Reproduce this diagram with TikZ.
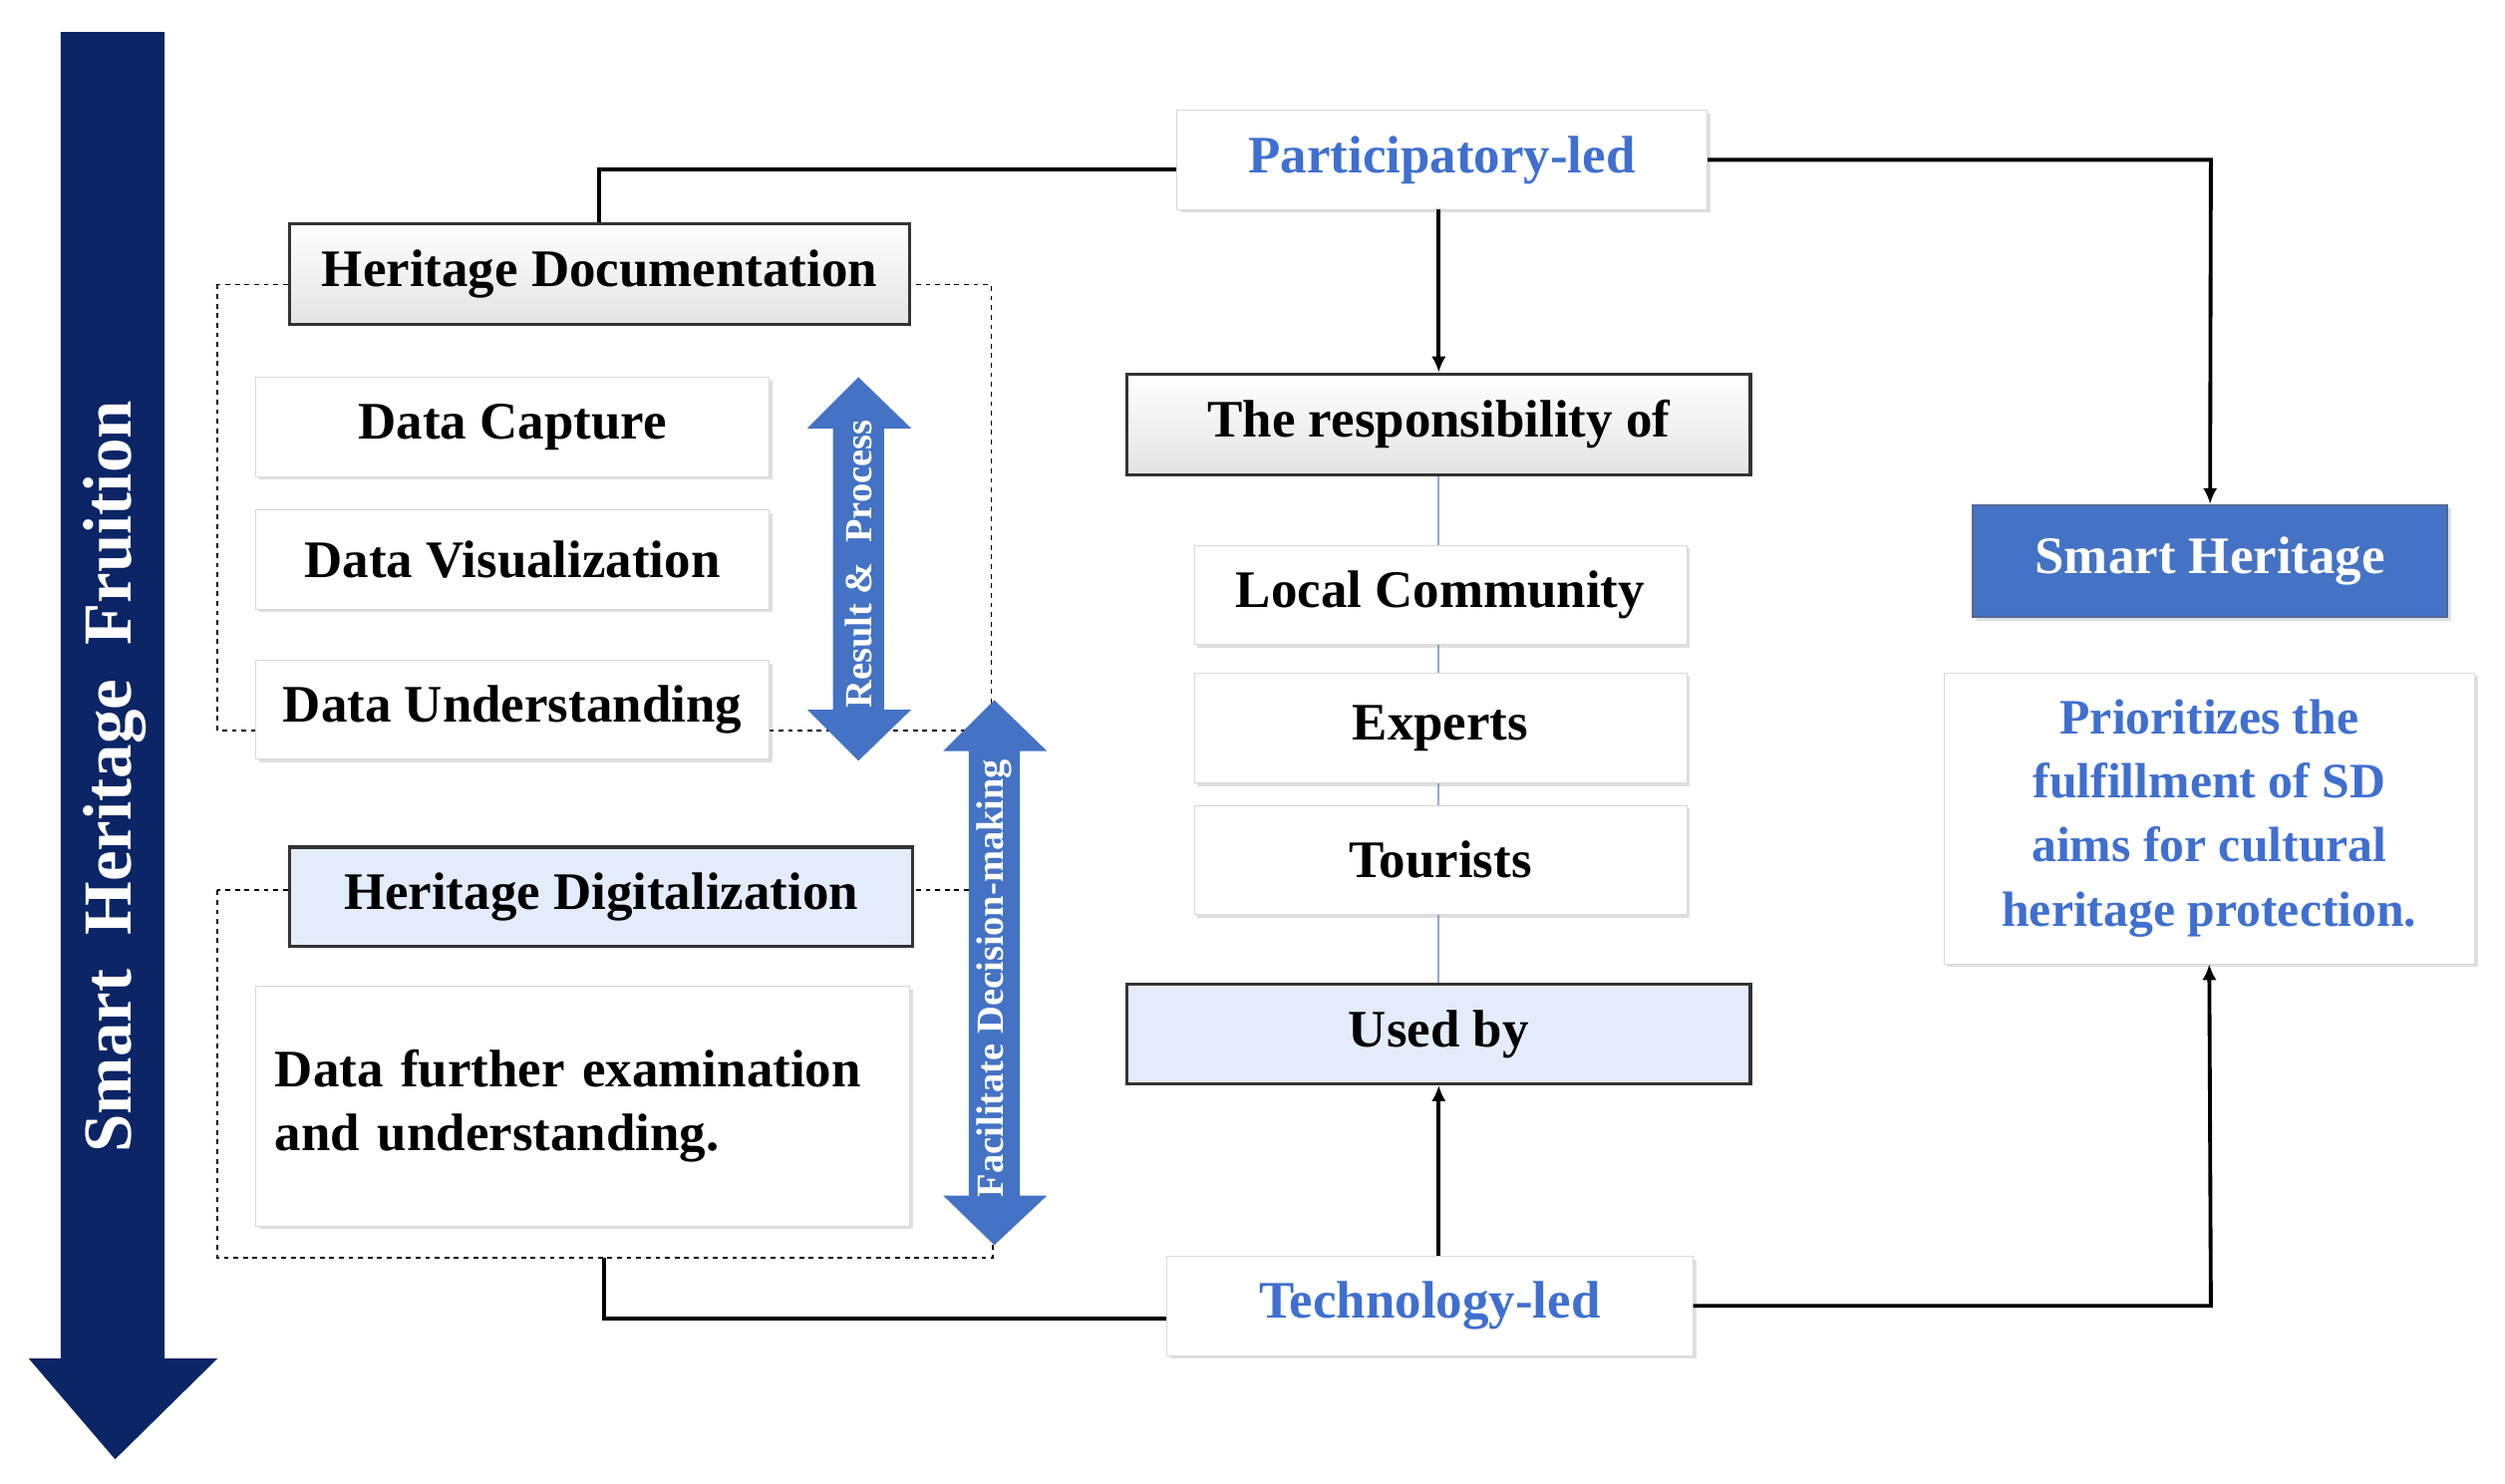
\documentclass[tikz,border=0pt]{standalone}
\usepackage{fontspec}
\setmainfont{Liberation Serif}
\usetikzlibrary{shadows,arrows.meta,backgrounds}
\definecolor{navy}{HTML}{0B2566}
\definecolor{mblue}{HTML}{4472C4}
\definecolor{lblue}{HTML}{E3ECFA}
\definecolor{tblue}{HTML}{3F6FD0}
\begin{document}
\begin{tikzpicture}[x=1pt,y=-1pt,
 txt/.style={font=\fontsize{33}{40}\selectfont\bfseries},
 wbox/.style={draw=gray!30,fill=white,drop shadow={opacity=0.25,shadow xshift=2pt,shadow yshift=-2pt},txt},
 gbox/.style={draw=black!80,line width=2pt,top color=white,bottom color=gray!22,txt},
 bbox/.style={draw=black!80,line width=2pt,fill=lblue,txt},
 conn/.style={line width=2.4pt,black},
 tip/.style={-{Latex[length=10pt,width=9pt]}},
 dgroup/.style={dashed,line width=1pt}]
\useasboundingbox (0,0) rectangle (1567,928);
% big arrow
\fill[navy] (38,20) -- (103,20) -- (103,850) -- (136,850) -- (72,913) -- (18,850) -- (38,850) -- cycle;
\node[rotate=90,white,font=\fontsize{43}{46}\selectfont\bfseries] (sf) at (72,486) {Smart\ \ Heritage\ \ Fruition};
% dashed groups
\draw[dgroup] (136,178) rectangle (620,457);
\draw[dgroup] (136,557) rectangle (621,787);
% left boxes
\node[gbox,minimum width=388,minimum height=63] (hd) at (375,171.5) {Heritage Documentation};
\node[wbox,minimum width=321,minimum height=62] (dc) at (320.5,267) {Data Capture};
\node[wbox,minimum width=321,minimum height=62] (dv) at (320.5,350) {Data Visualization};
\node[wbox,minimum width=321,minimum height=62] (du) at (320.5,444) {Data Understanding};
\node[bbox,minimum width=390,minimum height=62] (hz) at (376,561) {Heritage Digitalization};
\node[wbox,minimum width=409,minimum height=150,align=left,text width=385] (df) at (364.5,692)
 {Data further examination\\ and understanding.};
% double arrows
\fill[mblue] (537,236) -- (570,268) -- (553,268) -- (553,444) -- (570,444) -- (537,476) -- (505,444) -- (521,444) -- (521,268) -- (505,268) -- cycle;
\node[rotate=90,white,font=\fontsize{24}{26}\selectfont\bfseries] (rp) at (537,353) {Result \&\ \ Process};
\fill[mblue] (622,438) -- (655,470) -- (638,470) -- (638,748) -- (655,748) -- (622,779) -- (590,748) -- (606,748) -- (606,470) -- (590,470) -- cycle;
\node[rotate=90,white,font=\fontsize{24}{26}\selectfont\bfseries] (fd) at (622,612) {Facilitate Decision-making};
% middle
\node[wbox,text=tblue,minimum width=332,minimum height=62] (pl) at (902,100) {Participatory-led};
\node[gbox,minimum width=390,minimum height=63] (rs) at (900,265.5) {The responsibility of};
\node[wbox,minimum width=308,minimum height=62] (lc) at (901,372) {Local Community};
\node[wbox,minimum width=308,minimum height=69] (ex) at (901,455.5) {Experts};
\node[wbox,minimum width=308,minimum height=68] (to) at (901,538) {Tourists};
\node[bbox,minimum width=390,minimum height=62] (ub) at (900,647) {Used by};
\begin{scope}[on background layer]
\draw[mblue!60,line width=1.2pt] (rs.south) -- (ub.north);
\end{scope}
\node[wbox,text=tblue,minimum width=329,minimum height=62] (tl) at (894.5,817) {Technology-led};
% right
\node[draw=navy!70,line width=1.2pt,fill=mblue,text=white,txt,minimum width=297,minimum height=70,drop shadow={opacity=0.25}] (sh) at (1382.5,351) {Smart Heritage};
\node[wbox,text=tblue,minimum width=332,minimum height=182,align=center,font=\fontsize{31}{40}\selectfont\bfseries] (pr) at (1382,512)
 {Prioritizes the\\fulfillment of SD\\aims for cultural\\heritage protection.};
% connectors
\draw[conn] (pl.west |- 0,106) -- (375,106) -- (hd.north);
\draw[conn,tip] (pl.east |- 0,100) -- (1383,100) -- (sh.north);
\draw[conn,tip] (pl.south -| 900,0) -- (rs.north);
\draw[conn,tip] (tl.north -| 900,0) -- (ub.south);
\draw[conn] (tl.west |- 0,825) -- (378,825) -- (378,787);
\draw[conn,tip] (tl.east |- 0,817) -- (1383,817) -- (pr.south);
\end{tikzpicture}
\end{document}
